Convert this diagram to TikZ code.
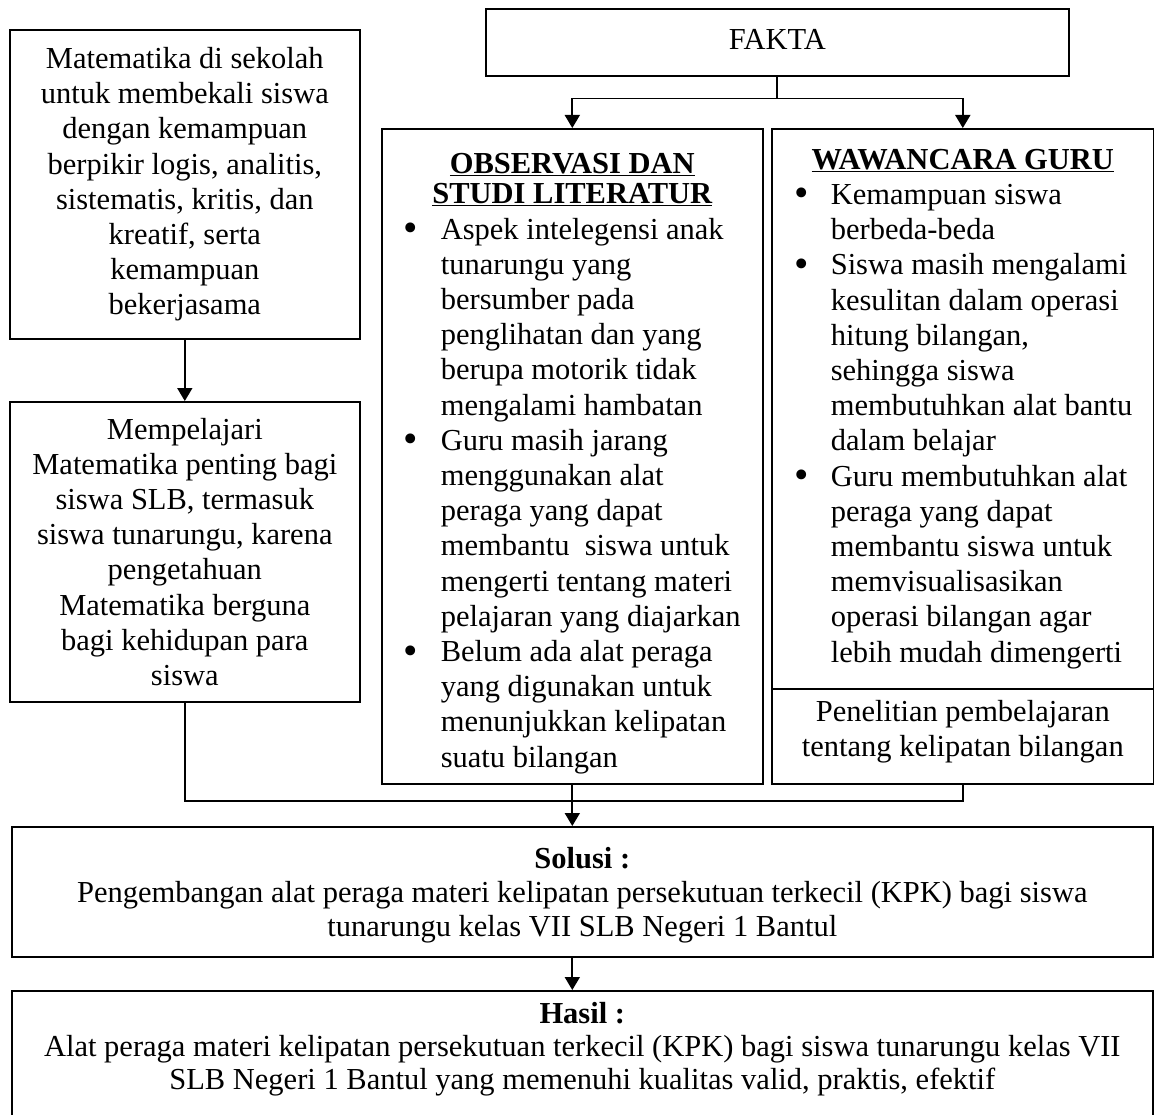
\documentclass[tikz,border=0pt]{standalone}
\usepackage{fontspec}
\usepackage{graphicx}
\setmainfont{Liberation Serif}
\usetikzlibrary{arrows.meta,calc}
\newcommand\fsz{\fontsize{30.5pt}{35.2pt}\selectfont}
\newcommand\bul{\raisebox{-2.5pt}{\scalebox{1.35}{\textbullet}}}
\newcommand\bitem[2][23pt]{\hspace*{#1}\makebox[\dimexpr59pt-#1\relax][l]{\bul}#2}
\newcommand\citem[1]{\hspace*{59pt}#1}
\newcommand\ttl[2]{\makebox[#1][c]{\bfseries\underline{#2}}}
\tikzset{
  box/.style={draw, line width=1.6pt, inner sep=0pt, align=center, font=\fsz, anchor=north west},
  listbox/.style={box, align=left},
  conn/.style={line width=1.8pt},
  arr/.style={conn, -{Triangle[width=15pt,length=13pt]}}
}
\begin{document}
\begin{tikzpicture}[x=1pt,y=-1pt]
\useasboundingbox (0,0) rectangle (1154,1115);
\node[box, minimum width=350pt, minimum height=309pt] (l1) at (9,29)
  {Matematika di sekolah\\untuk membekali siswa\\dengan kemampuan\\berpikir logis, analitis,\\sistematis, kritis, dan\\kreatif, serta\\kemampuan\\bekerjasama};
\node[box, minimum width=350pt, minimum height=300pt] (l2) at (9,401)
  {Mempelajari\\Matematika penting bagi\\siswa SLB, termasuk\\siswa tunarungu, karena\\pengetahuan\\Matematika berguna\\bagi kehidupan para\\siswa};
\node[box, minimum width=583pt, minimum height=67pt] (fakta) at (485,8)
  {FAKTA\rule[-5pt]{0pt}{0pt}};
\node[listbox, minimum width=381pt, minimum height=655pt] (obs) at (381,128)
  {\ttl{381pt}{\rule{0pt}{34.5pt}OBSERVASI DAN}\\[-4.7pt]
   \ttl{381pt}{STUDI LITERATUR}\\
   \bitem[22pt]{Aspek intelegensi anak}\\
   \citem{tunarungu yang}\\
   \citem{bersumber pada}\\
   \citem{penglihatan dan yang}\\
   \citem{berupa motorik tidak}\\
   \citem{mengalami hambatan}\\
   \bitem[22pt]{Guru masih jarang}\\
   \citem{menggunakan alat}\\
   \citem{peraga yang dapat}\\
   \citem{membantu \ siswa untuk}\\
   \citem{mengerti tentang materi}\\
   \citem{pelajaran yang diajarkan}\\
   \bitem[22pt]{Belum ada alat peraga}\\
   \citem{yang digunakan untuk}\\
   \citem{menunjukkan kelipatan}\\
   \citem{suatu bilangan}};
\node[listbox, minimum width=382pt, minimum height=560pt] (waw) at (771,128)
  {\ttl{382pt}{WAWANCARA GURU}\\
   \bitem{Kemampuan siswa}\\
   \citem{berbeda-beda}\\
   \bitem{Siswa masih mengalami}\\
   \citem{kesulitan dalam operasi}\\
   \citem{hitung bilangan,}\\
   \citem{sehingga siswa}\\
   \citem{membutuhkan alat bantu}\\
   \citem{dalam belajar}\\
   \bitem{Guru membutuhkan alat}\\
   \citem{peraga yang dapat}\\
   \citem{membantu siswa untuk}\\
   \citem{memvisualisasikan}\\
   \citem{operasi bilangan agar}\\
   \citem{lebih mudah dimengerti}};
\node[box, minimum width=382pt, minimum height=95pt] (pen) at (771,688)
  {Penelitian pembelajaran\\tentang kelipatan bilangan\rule[-16pt]{0pt}{0pt}};
\node[box, minimum width=1141pt, minimum height=130pt, font=\fontsize{30.5pt}{34pt}\selectfont] (sol) at (11,826)
  {\textbf{\rule{0pt}{28pt}Solusi :}\\Pengembangan alat peraga materi kelipatan persekutuan terkecil (KPK) bagi siswa\\tunarungu kelas VII SLB Negeri 1 Bantul};
\node[box, minimum width=1141pt, minimum height=126.5pt, font=\fontsize{30.5pt}{33pt}\selectfont] (hasil) at (11,990)
  {\textbf{Hasil :}\\Alat peraga materi kelipatan persekutuan terkecil (KPK) bagi siswa tunarungu kelas VII\\SLB Negeri 1 Bantul yang memenuhi kualitas valid, praktis, efektif\rule[-16.6pt]{0pt}{0pt}};
% connectors
\draw[conn] (fakta.south) -- ++(0,22) coordinate (fk);
\draw[arr] (fk) -| (obs.north);
\draw[arr] (fk) -| (waw.north);
\draw[arr] (l1.south) -- (l2.north);
\draw[conn] (l2.south) |- ($(pen.south)+(0,16)$) -- (pen.south);
\draw[arr] (obs.south) -- (obs.south |- sol.north);
\draw[arr] (sol.south -| obs.south) -- (hasil.north -| obs.south);
\end{tikzpicture}
\end{document}
